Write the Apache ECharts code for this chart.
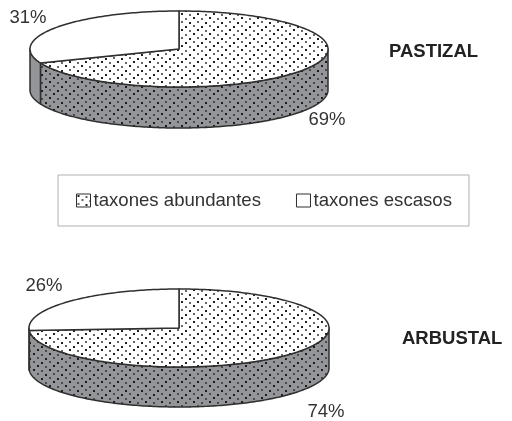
<!DOCTYPE html>
<html>
<head>
    <meta charset="utf-8" />
    <title>Taxones</title>
    <script src="https://cdn.jsdelivr.net/npm/echarts@6/dist/echarts.min.js"></script>
    <style>
        html, body { margin: 0; padding: 0; background: #fff; }
    </style>
</head>
<body>
<div id="main" style="width:512px;height:421px;"></div>

<script type="text/javascript">
    var pieNames = ['PASTIZAL', 'ARBUSTAL'];
    var seriesNames = ['taxones abundantes', 'taxones escasos'];
    var abundantes = [69, 74];
    var escasos = [31, 26];

    // layout of the two flattened pies, in pixels
    var pieLayout = [
        { cx: 179, cy: 49, rx: 149, ry: 38, depth: 41 },
        { cx: 179, cy: 328, rx: 150, ry: 39, depth: 40 }
    ];
    var labelPos = [
        [[327, 120], [28, 18]],
        [[326, 412], [44, 286]]
    ];
    var titlePos = [[389, 42], [402, 329]];

    var INK = '#2f2f2f';
    var WALL = '#939598';

    function dotTile(bg, dark, soft) {
        var c = document.createElement('canvas');
        c.width = 16;
        c.height = 16;
        var g = c.getContext('2d');
        g.fillStyle = bg;
        g.fillRect(0, 0, 16, 16);
        var dots = [[1, 1, dark], [9, 2, soft], [5, 5, soft], [13, 6, dark], [1, 9, soft], [9, 10, dark], [5, 13, dark], [13, 14, soft]];
        dots.forEach(function (d) {
            g.fillStyle = d[2];
            g.fillRect(d[0], d[1], 2, 2);
        });
        return c;
    }
    var topFill = { image: dotTile('#ffffff', '#222222', '#666666'), repeat: 'repeat' };
    var wallFill = { image: dotTile(WALL, '#1c1c1c', '#4a4a4a'), repeat: 'repeat' };

    // angle is clockwise from 12 o'clock, in degrees
    function rimPoint(p, deg, drop) {
        var a = deg * Math.PI / 180;
        return [p.cx + p.rx * Math.sin(a), p.cy - p.ry * Math.cos(a) + drop];
    }

    function arcPoints(p, from, to, drop) {
        var pts = [];
        var n = Math.max(2, Math.ceil(Math.abs(to - from)));
        for (var i = 0; i <= n; i++) {
            pts.push(rimPoint(p, from + (to - from) * i / n, drop));
        }
        return pts;
    }

    function makeRenderItem(seriesIndex) {
        return function (params, api) {
            var i = params.dataIndex;
            var p = pieLayout[i];
            var total = abundantes[i] + escasos[i];
            var split = abundantes[i] / total * 360;
            var from = seriesIndex === 0 ? 0 : split;
            var to = seriesIndex === 0 ? split : 360;
            var children = [];

            // visible wall is the part of the slice on the front half
            var wFrom = Math.max(from, 90);
            var wTo = Math.min(to, 270);
            if (wTo > wFrom) {
                var upper = arcPoints(p, wFrom, wTo, 0);
                var lower = arcPoints(p, wTo, wFrom, p.depth);
                children.push({
                    type: 'polygon',
                    shape: { points: upper.concat(lower) },
                    style: {
                        fill: seriesIndex === 0 ? wallFill : WALL,
                        stroke: INK,
                        lineWidth: 1.5,
                        lineJoin: 'round'
                    }
                });
            }

            children.push({
                type: 'polygon',
                shape: { points: [[p.cx, p.cy]].concat(arcPoints(p, from, to, 0)) },
                style: {
                    fill: seriesIndex === 0 ? topFill : '#ffffff',
                    stroke: INK,
                    lineWidth: 1.5,
                    lineJoin: 'round'
                }
            });

            var lp = labelPos[i][seriesIndex];
            children.push({
                type: 'text',
                x: lp[0],
                y: lp[1],
                style: {
                    text: api.value(0) + '%',
                    fill: '#333333',
                    font: '18.5px "Liberation Sans"',
                    textAlign: 'center',
                    textVerticalAlign: 'middle'
                }
            });

            return { type: 'group', children: children };
        };
    }

    function toRows(list) {
        return list.map(function (v) { return [v]; });
    }

    var myChart = echarts.init(document.getElementById('main'), null, { renderer: 'canvas' });

    var option = {
        animation: false,
        backgroundColor: '#ffffff',
        title: pieNames.map(function (name, i) {
            return {
                text: name,
                left: titlePos[i][0],
                top: titlePos[i][1],
                padding: 0,
                textStyle: {
                    color: '#222222',
                    fontFamily: 'Liberation Sans',
                    fontWeight: 'bold',
                    fontSize: 18.5
                }
            };
        }),
        legend: {
            left: 58,
            top: 175,
            orient: 'horizontal',
            padding: [16, 17, 16, 18],
            itemGap: 35,
            itemWidth: 14,
            itemHeight: 13,
            borderColor: '#b0b0b0',
            borderWidth: 1,
            selectedMode: false,
            textStyle: {
                color: '#333333',
                fontFamily: 'Liberation Sans',
                fontSize: 18.6,
                padding: [0, 0, 0, -2]
            },
            data: [
                { name: seriesNames[0], icon: 'rect', itemStyle: { color: topFill, borderColor: INK, borderWidth: 1 } },
                { name: seriesNames[1], icon: 'rect', itemStyle: { color: '#ffffff', borderColor: INK, borderWidth: 1 } }
            ]
        },
        series: [
            {
                type: 'custom',
                name: seriesNames[0],
                coordinateSystem: 'none',
                silent: true,
                renderItem: makeRenderItem(0),
                data: toRows(abundantes)
            },
            {
                type: 'custom',
                name: seriesNames[1],
                coordinateSystem: 'none',
                silent: true,
                renderItem: makeRenderItem(1),
                data: toRows(escasos)
            }
        ]
    };

    myChart.setOption(option);
</script>
</body>
</html>
